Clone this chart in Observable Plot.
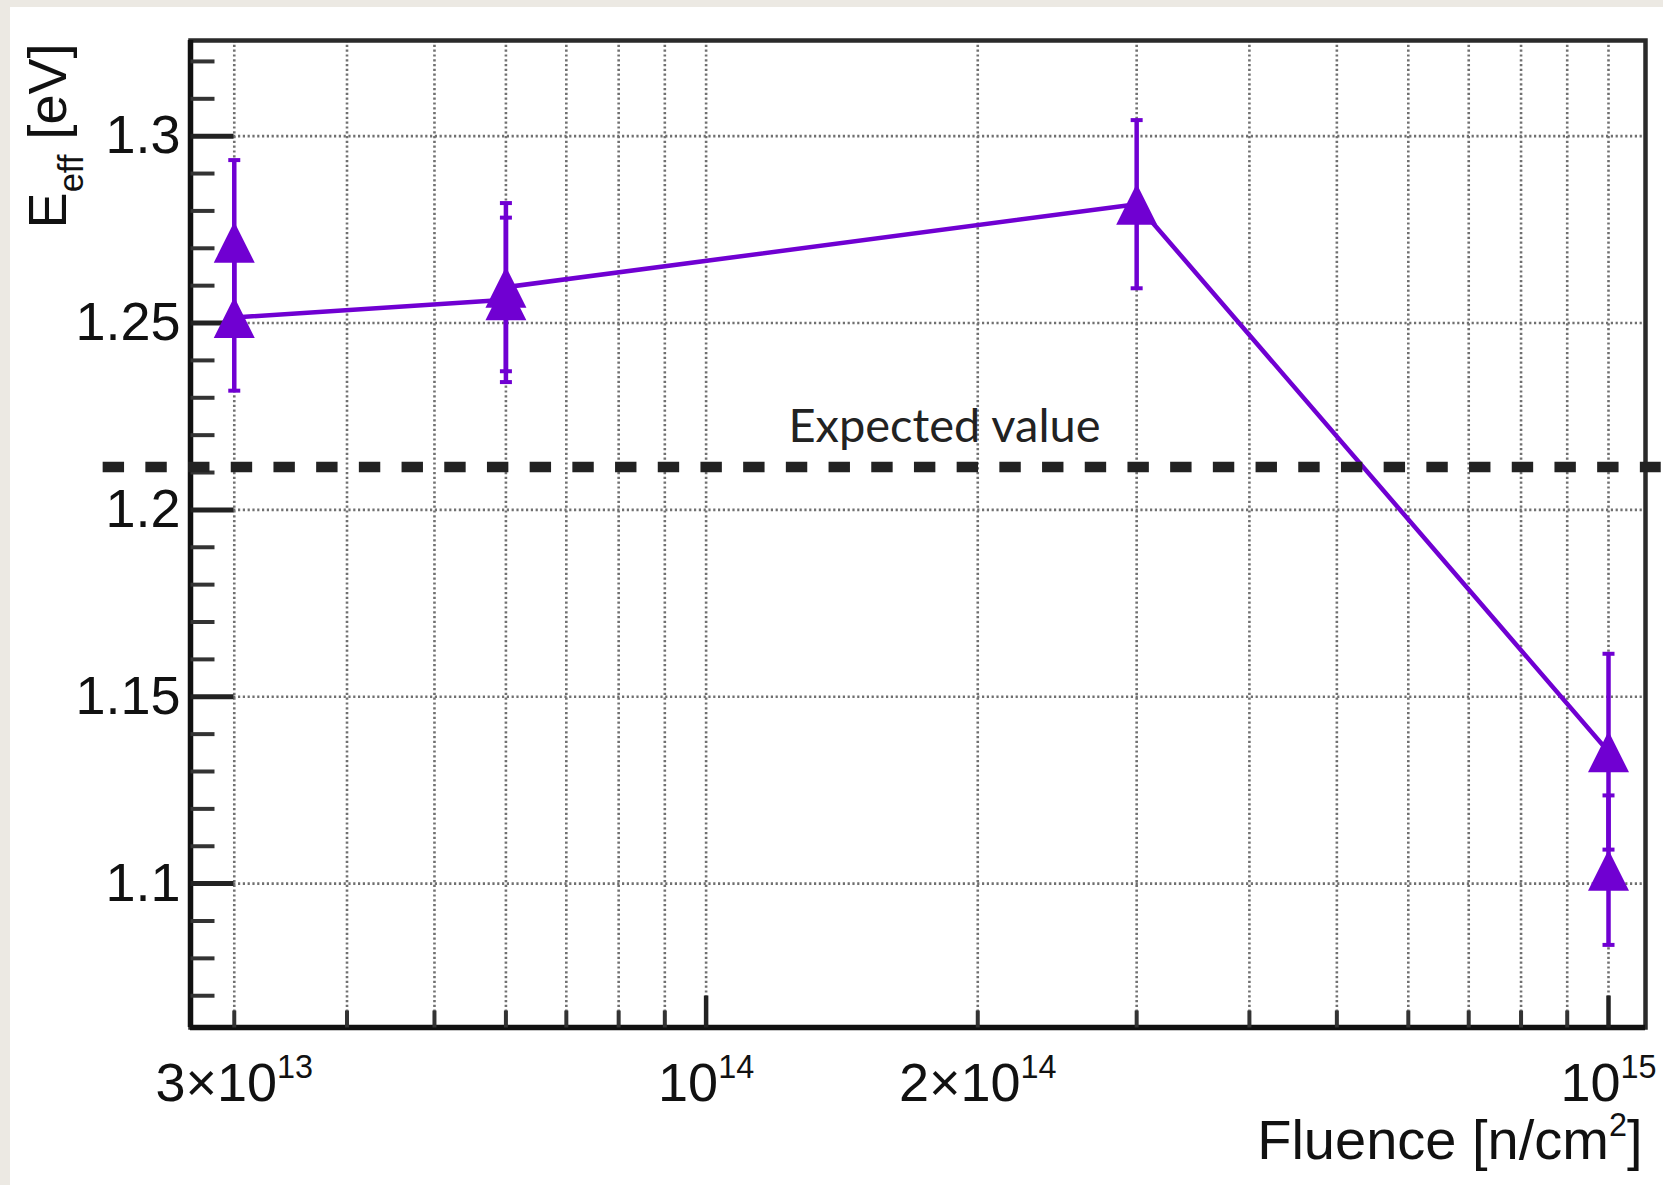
<!DOCTYPE html>
<html>
<head>
<meta charset="utf-8">
<script src="https://cdn.jsdelivr.net/npm/d3@7"></script>
<script src="https://cdn.jsdelivr.net/npm/@observablehq/plot@0.6"></script>
<style>
  html, body { margin: 0; padding: 0; }
  body { width: 1663px; height: 1185px; background: #ece9e3; position: relative; overflow: hidden; }
  #sheet { position: absolute; left: 10px; top: 7px; right: 0; bottom: 0; background: #ffffff; }
  #chart { position: absolute; left: 0; top: 0; }
</style>
</head>
<body>
<div id="sheet"></div>
<div id="chart"></div>
<script>
// E_eff versus neutron fluence.
// Measurements joined by the line, in drawing order.
const fluence = [3e13, 6e13, 6e13, 3e14, 1e15];
const eeff = [1.2515, 1.2562, 1.2596, 1.2818, 1.1353];
const eeffErr = [0.0196, 0.022, 0.0225, 0.0225, 0.0262];

// Second measurement at the same fluence, markers only.
const fluence2 = [3e13, 1e15];
const eeff2 = [1.2716, 1.1036];
const eeffErr2 = [0.022, 0.020];

// Reference level and its annotation.
const expectedEeff = 1.2115;
const expectedSpan = [2.147e13, 1.144e15];
const expectedLabel = "Expected value";
const expectedLabelFluence = 1.837e14;

// Axes.
const xDomain = [2.683e13, 1.099e15];
const yDomain = [1.0615, 1.3256];
const xGrid = [3e13, 4e13, 5e13, 6e13, 7e13, 8e13, 9e13, 1e14,
               2e14, 3e14, 4e14, 5e14, 6e14, 7e14, 8e14, 9e14, 1e15];
const xDecades = [1e14, 1e15];
const xLabelTicks = [3e13, 1e14, 2e14, 1e15];
const xTickLabels = ["3×10^{13}", "10^{14}", "2×10^{14}", "10^{15}"];
const yMajor = [1.1, 1.15, 1.2, 1.25, 1.3];
const yTickLabels = ["1.1", "1.15", "1.2", "1.25", "1.3"];
const yMinor = [1.07, 1.08, 1.09, 1.11, 1.12, 1.13, 1.14, 1.16, 1.17, 1.18, 1.19,
                1.21, 1.22, 1.23, 1.24, 1.26, 1.27, 1.28, 1.29, 1.31, 1.32];
const xTitle = "Fluence [n/cm^{2}]";
const yTitle = "E_{eff} [eV]";

const purple = "#7000d2";
const rootFont = "'Liberation Sans', Arial, Helvetica, sans-serif";

const linked = fluence.map((f, i) => ({f, e: eeff[i], err: eeffErr[i]}));
const single = fluence2.map((f, i) => ({f, e: eeff2[i], err: eeffErr2[i]}));
const points = linked.concat(single);

// Marker shapes: full triangle centred on its box, error-bar cap, inward tick.
const triangle = {draw(ctx, size) {
  const s = Math.sqrt(size / Math.PI);
  ctx.moveTo(0, -s); ctx.lineTo(s, s); ctx.lineTo(-s, s); ctx.closePath();
}};
const cap = {draw(ctx, size) {
  const s = Math.sqrt(size / Math.PI);
  ctx.moveTo(-s, 0); ctx.lineTo(s, 0);
}};
const tickRight = {draw(ctx, size) {
  const s = Math.sqrt(size / Math.PI);
  ctx.moveTo(0, 0); ctx.lineTo(s, 0);
}};
const tickUp = {draw(ctx, size) {
  const s = Math.sqrt(size / Math.PI);
  ctx.moveTo(0, 0); ctx.lineTo(0, -s);
}};

const grid = {stroke: "#707070", strokeOpacity: 1, strokeWidth: 2.6, strokeDasharray: "2.2 2.6"};

const chart = Plot.plot({
  width: 1663,
  height: 1185,
  marginLeft: 190,
  marginRight: 18,
  marginTop: 40,
  marginBottom: 158,
  style: {background: "transparent", fontFamily: rootFont, fontSize: "54px", color: "#111", overflow: "visible"},
  x: {type: "log", domain: xDomain},
  y: {domain: yDomain},
  marks: [
    Plot.gridX(xGrid, grid),
    Plot.gridY(yMajor, grid),
    Plot.frame({stroke: "#2a2a2a", strokeWidth: 4.5}),
    Plot.ruleX([xDomain[0]], {stroke: "#111", strokeWidth: 5.5}),
    Plot.ruleY([yDomain[0]], {stroke: "#111", strokeWidth: 5.5}),
    // inward ticks
    Plot.dot(yMajor, {y: d => d, frameAnchor: "left", symbol: tickRight, r: 43, fill: "none", stroke: "#222", strokeWidth: 5}),
    Plot.dot(yMinor, {y: d => d, frameAnchor: "left", symbol: tickRight, r: 24, fill: "none", stroke: "#333", strokeWidth: 4}),
    Plot.dot(xGrid.filter(d => !xDecades.includes(d)), {x: d => d, frameAnchor: "bottom", symbol: tickUp, r: 17, fill: "none", stroke: "#333", strokeWidth: 4}),
    Plot.dot(xDecades, {x: d => d, frameAnchor: "bottom", symbol: tickUp, r: 32, fill: "none", stroke: "#222", strokeWidth: 4.5}),
    // tick labels
    Plot.axisY({ticks: yMajor, tickSize: 0, tickPadding: 10, fontSize: 54, label: null,
                tickFormat: d => yTickLabels[yMajor.indexOf(d)]}),
    Plot.axisX({ticks: xLabelTicks, tickSize: 0, tickPadding: 35, fontSize: 54, label: null,
                tickFormat: d => xTickLabels[xLabelTicks.indexOf(d)]}),
    // axis titles
    Plot.text([yTitle], {text: d => d, frameAnchor: "top-left", rotate: -90, textAnchor: "end",
                         lineAnchor: "bottom", dx: -125, dy: 3, fontSize: 54, fill: "#111"}),
    Plot.text([xTitle], {text: d => d, frameAnchor: "bottom-right", textAnchor: "end",
                         lineAnchor: "bottom", dx: -3, dy: 131, fontSize: 56, fill: "#111"}),
    // data
    Plot.line(linked, {x: "f", y: "e", stroke: purple, strokeWidth: 4.5}),
    Plot.ruleX(points, {x: "f", y1: d => d.e - d.err, y2: d => d.e + d.err, stroke: purple, strokeWidth: 4.5}),
    Plot.dot(points, {x: "f", y: d => d.e + d.err, symbol: cap, r: 6, fill: "none", stroke: purple, strokeWidth: 4}),
    Plot.dot(points, {x: "f", y: d => d.e - d.err, symbol: cap, r: 6, fill: "none", stroke: purple, strokeWidth: 4}),
    Plot.dot(points, {x: "f", y: "e", symbol: triangle, r: 20.5, fill: purple, stroke: "none"}),
    // expected level
    Plot.ruleY([expectedEeff], {x1: expectedSpan[0], x2: expectedSpan[1], stroke: "#222",
                                strokeWidth: 10.5, strokeDasharray: "21.4 21.3"}),
    Plot.text([expectedLabel], {text: d => d, x: expectedLabelFluence, y: expectedEeff,
                                textAnchor: "middle", lineAnchor: "bottom", dy: -24.5,
                                fontFamily: "Lato, 'Open Sans', sans-serif", fontSize: 47, fill: "#222"})
  ]
});

// Turn ^{...} and _{...} into raised / lowered tspans.
const NS = "http://www.w3.org/2000/svg";
function richText(el, fontSize) {
  const s = el.textContent;
  if (!/[\^_]\{/.test(s)) return;
  el.textContent = "";
  const re = /([\^_])\{([^}]*)\}/g;
  let last = 0, off = 0, m;
  const add = (txt, size, shift) => {
    const t = document.createElementNS(NS, "tspan");
    t.textContent = txt;
    if (size) t.setAttribute("font-size", size);
    const dy = shift - off;
    if (dy) t.setAttribute("dy", dy);
    off = shift;
    el.appendChild(t);
  };
  while ((m = re.exec(s))) {
    if (m.index > last) add(s.slice(last, m.index), null, 0);
    if (m[1] === "^") add(m[2], 0.6 * fontSize, -0.42 * fontSize);
    else add(m[2], 0.64 * fontSize, 0.33 * fontSize);
    last = re.lastIndex;
  }
  if (last < s.length) add(s.slice(last), null, 0);
}
chart.querySelectorAll("text").forEach(el => richText(el, 54));

document.getElementById("chart").appendChild(chart);
</script>
</body>
</html>
